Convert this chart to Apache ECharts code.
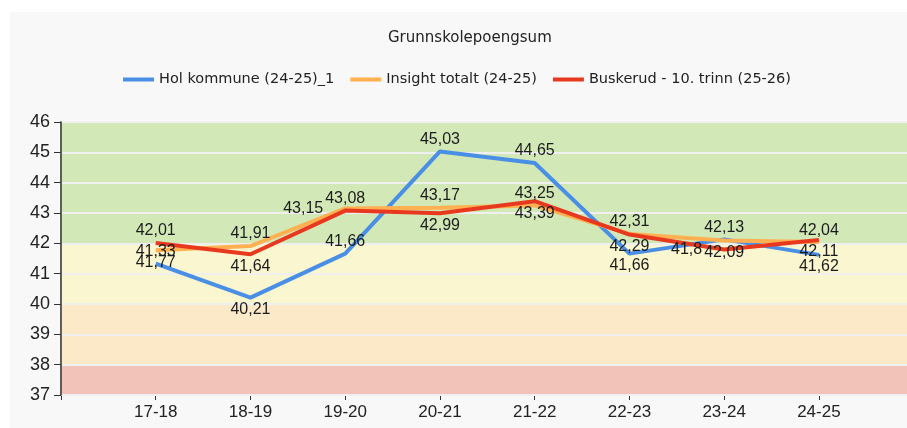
<!DOCTYPE html>
<html>
<head>
<meta charset="utf-8">
<script src="https://cdn.jsdelivr.net/npm/echarts@6/dist/echarts.min.js"></script>
<style>
html,body{margin:0;padding:0;background:#fff;}
#chart{width:907px;height:428px;}
</style>
</head>
<body>
<div id="chart"></div>
<script>
var categories=['17-18','18-19','19-20','20-21','21-22','22-23','23-24','24-25'];
var holKommune=[41.33,40.21,41.66,45.03,44.65,41.66,42.13,41.62];
var insightTotalt=[41.77,41.91,43.15,43.17,43.25,42.31,42.09,42.04];
var buskerud=[42.01,41.64,43.08,42.99,43.39,42.29,41.8,42.11];
var seriesNames=['Hol kommune (24-25)_1','Insight totalt (24-25)','Buskerud - 10. trinn (25-26)'];
var yTicks=[37,38,39,40,41,42,43,44,45,46];
var bands=[[37,38],[38,40],[40,42],[42,46]];

// etiketter plassert som i originalen
var blueLbl=['top','bottom','top','top','top','bottom','top','bottom'];
var orangeLbl=['bottom','top','left','top','top','top','bottom','top'];
var redLbl=['top','bottom','top','bottom','bottom','bottom','left','bottom'];
var bandColors=['#f2c4b9','#fce9c8','#faf6cf','#d2e8b7'];

// x = kategoriens nummer (1..8), aksen går litt forbi siste kategori
function items(values,pos){
    var out=[];
    for(var i=0;i<values.length;i++){
        out.push({
            value:[i+1,values[i]],
            label:{position:pos[i],distance:pos[i]=='left'?22:4}
        });
    }
    return out;
}
function fmt(p){
    return String(p.value[1]).replace('.',',');
}
var labelStyle={
    show:true,
    formatter:fmt,
    color:'#1c1c1c',
    fontFamily:'Liberation Sans',
    fontSize:16
};

var myChart=echarts.init(document.getElementById('chart'));
var option={
    animation:false,
    graphic:[{
        type:'rect',
        left:10,top:12,z:-10,
        shape:{width:900,height:420},
        style:{fill:'#f8f8f8'}
    }],
    title:{
        text:'Grunnskolepoengsum',
        left:383,
        top:26,
        textStyle:{fontFamily:'DejaVu Sans',fontSize:15,fontWeight:'normal',color:'#222'}
    },
    legend:{
        data:seriesNames,
        left:118,
        top:67,
        icon:'rect',
        itemWidth:31,
        itemHeight:4,
        itemGap:16,
        textStyle:{fontFamily:'DejaVu Sans',fontSize:14.5,color:'#222'}
    },
    grid:{
        left:61,
        right:0,
        top:122,
        bottom:33,
        show:true,
        borderColor:'#d4d4d4',
        borderWidth:2,
        backgroundColor:'transparent'
    },
    xAxis:{
        type:'value',
        min:0,
        max:8.93,
        interval:1,
        axisLine:{lineStyle:{color:'#333',width:1.5}},
        axisTick:{length:5,lineStyle:{color:'#333'}},
        axisLabel:{
            fontFamily:'Liberation Sans',fontSize:17,color:'#222',margin:9,
            showMaxLabel:false,
            formatter:function(v){return categories[v-1]||'';}
        },
        splitLine:{show:false}
    },
    yAxis:{
        type:'value',
        min:yTicks[0],
        max:yTicks[yTicks.length-1],
        interval:1,
        z:1.5,
        axisLine:{show:true,lineStyle:{color:'#333',width:1.5}},
        axisTick:{show:true,length:7,lineStyle:{color:'#333'}},
        axisLabel:{fontFamily:'Liberation Sans',fontSize:18,color:'#222',margin:11},
        splitLine:{show:true,lineStyle:{color:'#efefef',width:2}}
    },
    series:[
        {
            name:'bands',
            type:'line',
            data:[],
            z:1,
            markArea:{
                silent:true,
                z:1,
                data:bands.map(function(b,i){
                    return [{yAxis:b[0],itemStyle:{color:bandColors[i]}},{yAxis:b[1]}];
                })
            }
        },
        {
            name:seriesNames[0],
            type:'line',
            data:items(holKommune,blueLbl),
            symbol:'circle',
            symbolSize:0,
            lineStyle:{color:'#4a8fe6',width:4},
            itemStyle:{color:'#4a8fe6'},
            label:labelStyle
        },
        {
            name:seriesNames[1],
            type:'line',
            data:items(insightTotalt,orangeLbl),
            symbol:'circle',
            symbolSize:0,
            lineStyle:{color:'#ffb050',width:4},
            itemStyle:{color:'#ffb050'},
            label:labelStyle
        },
        {
            name:seriesNames[2],
            type:'line',
            data:items(buskerud,redLbl),
            symbol:'circle',
            symbolSize:0,
            lineStyle:{color:'#e8381e',width:4},
            itemStyle:{color:'#e8381e'},
            label:labelStyle
        }
    ]
};
myChart.setOption(option);
</script>
</body>
</html>
